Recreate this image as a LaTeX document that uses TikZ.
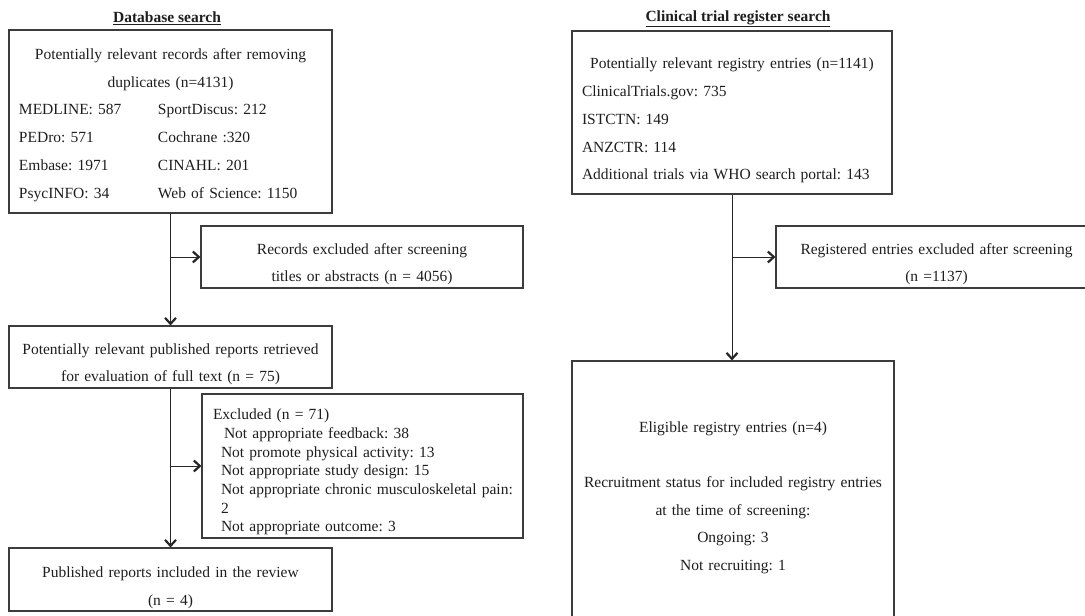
\documentclass[tikz,border=0pt]{standalone}
\usepackage{fontspec}
\setmainfont{Liberation Serif}
\usetikzlibrary{arrows.meta}
\setlength{\parindent}{0pt}
\frenchspacing
\definecolor{linegray}{RGB}{60,60,60}
\definecolor{textgray}{RGB}{30,30,30}
\begin{document}
\begin{tikzpicture}[x=1pt,y=-1pt,
    box/.style={draw=linegray,line width=1.1pt,inner xsep=10pt,inner ysep=0pt,
        text=textgray,font=\fontsize{15.5}{27.7}\selectfont,align=center},
    lowtext/.style={execute at begin node={\rule{0pt}{#1}}},
    lowtext/.default=25pt,
    title/.style={text=textgray,font=\fontsize{15.5}{18}\selectfont\bfseries},
    arr/.style={draw=black!85,line width=1pt,
        -{Straight Barb[length=6pt,width=11pt,line width=2.2pt]}},
    ]
    \useasboundingbox (0,0) rectangle (1085,616);
    \clip (0,0) rectangle (1085,616);
    % <<< left column
    \node[title] (T1) at (167,18) {\underline{Database search}};
    \node[box,lowtext=18pt,minimum width=323pt,minimum height=183pt,text width=303pt,align=left]
        (B1) at (170.5,121.5)
        {{\centering Potentially relevant records after removing\\duplicates (n=4131)\par}
        \makebox[139pt][l]{MEDLINE: 587}SportDiscus: 212\\
        \makebox[139pt][l]{PEDro: 571}Cochrane :320\\
        \makebox[139pt][l]{Embase: 1971}CINAHL: 201\\
        \makebox[139pt][l]{PsycINFO: 34}Web of Science: 1150};
    \node[box,lowtext,minimum width=322pt,minimum height=62pt,text width=302pt] (B2) at (362,257)
        {Records excluded after screening\\titles or abstracts (n = 4056)};
    \node[box,lowtext,minimum width=323pt,minimum height=62pt,text width=303pt] (B3) at (170.5,357)
        {Potentially relevant published reports retrieved\\for evaluation of full text (n = 75)};
    \node[box,lowtext=23pt,minimum width=321pt,minimum height=144pt,inner xsep=11pt,
        text width=299pt,align=left,font=\fontsize{15.5}{18.7}\selectfont]
        (B4) at (362.5,466)
        {Excluded (n = 71)\\
        \hspace*{11pt}Not appropriate feedback: 38\\
        \hspace*{8pt}Not promote physical activity: 13\\
        \hspace*{8pt}Not appropriate study design: 15\\
        \hspace*{8pt}\mbox{Not appropriate chronic musculoskeletal pain:}\\
        \hspace*{8pt}2\\
        \hspace*{8pt}Not appropriate outcome: 3};
    \node[box,lowtext=27pt,minimum width=323pt,minimum height=63pt,text width=303pt] (B5) at (170.5,579.5)
        {Published reports included in the review\\(n = 4)};
    % <<< right column
    \node[title] (T2) at (738,19) {\underline{Clinical trial register search}};
    \node[box,lowtext=27pt,minimum width=320pt,minimum height=163pt,text width=300pt,align=left]
        (R1) at (732,112.5)
        {{\centering Potentially relevant registry entries (n=1141)\par}
        ClinicalTrials.gov: 735\\
        ISTCTN: 149\\
        ANZCTR: 114\\
        Additional trials via WHO search portal: 143};
    \node[box,lowtext,minimum width=321pt,minimum height=62pt,text width=301pt] (R2) at (936.5,257)
        {Registered entries excluded after screening\\(n =1137)};
    \node[box,lowtext,minimum width=322pt,minimum height=259pt,text width=302pt] (R3) at (733,490.5)
        {Eligible registry entries (n=4)\\[27.7pt]
        Recruitment status for included registry entries\\
        at the time of screening:\\
        Ongoing: 3\\
        Not recruiting: 1};
    % <<< arrows
    \draw[arr] (B1.south) -- (B3.north);
    \draw[arr] (B1.south |- B2.west) -- (B2.west);
    \draw[arr] (B3.south) -- (B5.north);
    \draw[arr] (B3.south |- B4.west) -- (B4.west);
    \draw[arr] (R1.south) -- (R1.south |- R3.north);
    \draw[arr] (R1.south |- R2.west) -- (R2.west);
\end{tikzpicture}
\end{document}
